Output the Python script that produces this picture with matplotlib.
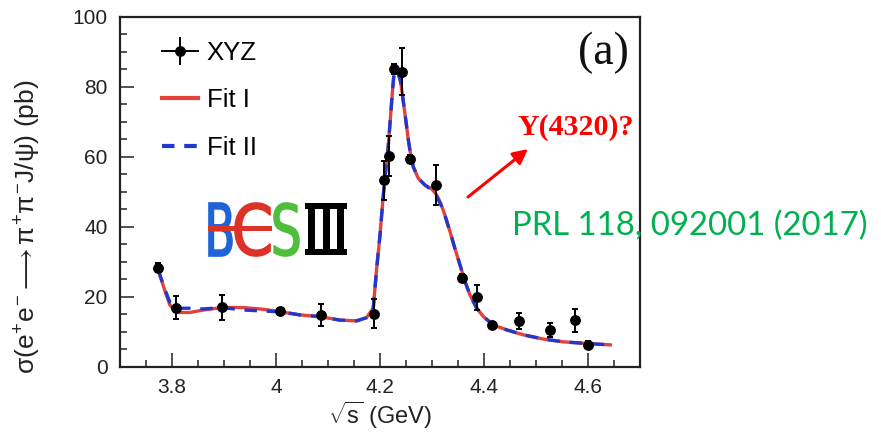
import matplotlib
matplotlib.use("Agg")
import matplotlib.pyplot as plt
from matplotlib.lines import Line2D
from matplotlib.patches import PathPatch, Rectangle
from matplotlib.textpath import TextPath
from matplotlib.font_manager import FontProperties
from matplotlib.transforms import Affine2D
from matplotlib.ticker import MultipleLocator

# Measured cross section of e+e- -> pi+ pi- J/psi
energy = [3.773, 3.808, 3.896, 4.008, 4.086, 4.189, 4.208, 4.217, 4.226, 4.242,
          4.258, 4.308, 4.358, 4.387, 4.416, 4.467, 4.527, 4.575, 4.600]
xsec = [28.3, 16.8, 17.0, 15.9, 14.8, 15.2, 53.2, 60.3, 85.1, 84.3,
        59.3, 51.9, 25.3, 19.8, 11.9, 13.1, 10.5, 13.3, 6.3]
xsec_err = [1.2, 3.3, 3.6, 1.0, 3.1, 4.2, 5.7, 5.7, 1.5, 6.8,
            1.2, 5.8, 1.2, 3.6, 1.0, 2.2, 1.9, 3.3, 1.0]

# Fit curves
fit_x = [3.772, 3.787, 3.796, 3.809, 3.835, 3.860, 3.896, 3.937, 3.976, 4.008,
         4.046, 4.085, 4.123, 4.155, 4.174, 4.187, 4.1936, 4.200, 4.2064, 4.2115,
         4.216, 4.2205, 4.2244, 4.227, 4.2295, 4.235, 4.2397, 4.2449, 4.250, 4.2545,
         4.259, 4.264, 4.2737, 4.2865, 4.2994, 4.309, 4.3167, 4.325, 4.3346, 4.344,
         4.3538, 4.3635, 4.373, 4.386, 4.399, 4.418, 4.444, 4.476, 4.514, 4.553,
         4.591, 4.646]
fit1_y = [28.3, 21.4, 17.6, 15.5, 15.5, 16.2, 16.9, 16.9, 16.4, 15.7,
          14.8, 14.3, 13.3, 13.1, 14.0, 16.7, 28.1, 37.6, 49.1, 56.7,
          63.3, 71.9, 79.5, 83.8, 84.8, 83.8, 81.4, 75.7, 70.0, 64.8,
          60.5, 57.1, 53.8, 51.9, 50.8, 49.1, 46.7, 43.3, 38.6, 33.8,
          29.1, 24.3, 20.5, 16.7, 14.3, 11.9, 10.5, 9.1, 7.9, 7.1,
          6.7, 6.2]
fit2_y = [28.3, 21.8, 18.4, 16.7, 16.7, 16.5, 16.9, 16.2, 15.9, 15.7,
          14.8, 14.3, 13.3, 13.1, 14.0, 16.7, 28.1, 37.6, 49.1, 56.7,
          63.3, 71.9, 79.5, 83.8, 84.8, 83.8, 81.4, 75.7, 70.0, 64.8,
          60.5, 57.1, 53.8, 51.9, 50.5, 48.6, 46.4, 43.1, 38.6, 33.8,
          29.1, 24.3, 20.5, 16.7, 14.3, 11.9, 10.5, 9.1, 7.9, 7.1,
          6.7, 6.2]

x_ticks = [3.8, 4.0, 4.2, 4.4, 4.6]
x_tick_labels = ["3.8", "4", "4.2", "4.4", "4.6"]
y_ticks = [0, 20, 40, 60, 80, 100]

RED = "#e3413a"
BLUE = "#2238cc"

plt.rcParams["font.family"] = ["Liberation Sans", "DejaVu Sans"]
plt.rcParams["mathtext.fontset"] = "custom"
plt.rcParams["mathtext.rm"] = "Liberation Sans"
plt.rcParams["mathtext.it"] = "Liberation Sans"
plt.rcParams["mathtext.sf"] = "Liberation Sans"
plt.rcParams["lines.scale_dashes"] = False

W, H = 881, 432
fig = plt.figure(figsize=(W / 100, H / 100), dpi=100)
fig.patch.set_facecolor("white")

ax = fig.add_axes([120 / W, 1 - 366.7 / H, 520 / W, 350 / H])
ax.set_xlim(3.7, 4.7)
ax.set_ylim(0, 100)

ax.plot(fit_x, fit1_y, color=RED, lw=2.4, solid_capstyle="butt", zorder=2)
ax.plot(fit_x, fit2_y, color=BLUE, lw=2.4, dashes=(0, 2, 9, 5), zorder=2.5)
ax.errorbar(energy, xsec, yerr=xsec_err, fmt="o", color="black", ms=6.8,
            elinewidth=1.4, capsize=2.3, capthick=1.4, zorder=3)

# axes styling
for sp in ax.spines.values():
    sp.set_linewidth(1.6)
    sp.set_color("#222222")
ax.set_xticks(x_ticks)
ax.set_xticklabels(x_tick_labels)
ax.set_yticks(y_ticks)
ax.xaxis.set_minor_locator(MultipleLocator(0.05))
ax.yaxis.set_minor_locator(MultipleLocator(5))
ax.tick_params(which="both", direction="in", width=1.1, color="#222222",
               labelsize=15, labelcolor="#222222")
ax.tick_params(which="major", length=10)
ax.tick_params(which="minor", length=5)
ax.tick_params(axis="y", pad=9)
ax.tick_params(axis="x", pad=8)

ax.set_xlabel(r"$\sqrt{s}$ (GeV)", fontsize=17, color="#222222", labelpad=2)
ax.set_ylabel(r"$\sigma(e^{+}e^{-}\longrightarrow\pi^{+}\pi^{-}J/\psi)$ (pb)",
              fontsize=19, color="#222222")
ax.yaxis.set_label_coords(-0.148, 0.40)

# legend
h_xyz = (Line2D([], [], color="black", lw=1.4, marker="|", ms=20, mew=1.4),
         Line2D([], [], color="black", marker="o", ms=6.8, ls="none"))
h_f1 = Line2D([], [], color=RED, lw=3)
h_f2 = Line2D([], [], color=BLUE, lw=3, dashes=(9, 7))
ax.legend([h_xyz, h_f1, h_f2], ["XYZ", "Fit I", "Fit II"], loc="upper left",
          bbox_to_anchor=(0.08, 0.932), frameon=False, fontsize=18.5,
          handlelength=1.4, handletextpad=0.35, labelspacing=0.93,
          borderpad=0, borderaxespad=0, numpoints=1)

ax.text(0.929, 0.896, "(a)", transform=ax.transAxes, ha="center", va="center",
        fontsize=33, family="Liberation Serif", color="#111111")

# annotations outside the frame
fig.text(518 / W, 1 - 135 / H, "Y(4320)?", fontsize=21.6, family="Liberation Serif",
         weight="bold", color="#ff0000", ha="left", va="baseline")
ax.annotate("", xy=(528 / W, 1 - 149 / H), xytext=(468 / W, 1 - 197 / H),
            xycoords="figure fraction", textcoords="figure fraction",
            arrowprops=dict(arrowstyle="-|>", color="#ff0000", lw=2.2,
                            mutation_scale=22, shrinkA=0, shrinkB=0),
            annotation_clip=False)
fig.text(512 / W, 1 - 235 / H, "PRL 118, 092001 (2017)", fontsize=23.7,
         family="Lato", color="#00b050", ha="left", va="baseline")

# BESIII logo drawn in pixel space
lax = fig.add_axes([0, 0, 1, 1], zorder=5)
lax.set_xlim(0, W)
lax.set_ylim(H, 0)
lax.axis("off")
lax.patch.set_alpha(0)


def glyph(ch, x0, x1, y0, y1, color):
    tp = TextPath((0, 0), ch, size=1,
                  prop=FontProperties(family="DejaVu Sans", weight="normal"))
    ext = tp.get_extents()
    sx = (x1 - x0) / ext.width
    sy = (y1 - y0) / ext.height
    tr = Affine2D().translate(-ext.x0, -ext.y0).scale(sx, -sy).translate(x0, y1)
    lax.add_patch(PathPatch(tr.transform_path(tp), fc=color, ec=color, lw=1.2))


glyph("B", 209, 232, 203, 256, "#1f63d9")
glyph("C", 235, 270, 203, 256, "#dc3228")
glyph("S", 274, 299, 203, 256, "#4fbf3b")
lax.add_patch(Rectangle((208, 226), 64, 5, fc="#dc3228", ec="none"))
# Roman numeral III
lax.add_patch(Rectangle((305, 203), 42, 6, fc="black", ec="none"))
lax.add_patch(Rectangle((305, 249), 42, 6, fc="black", ec="none"))
for sx0 in (308, 322.5, 337):
    lax.add_patch(Rectangle((sx0, 203), 7, 52, fc="black", ec="none"))

fig.savefig("out.png", dpi=100)
